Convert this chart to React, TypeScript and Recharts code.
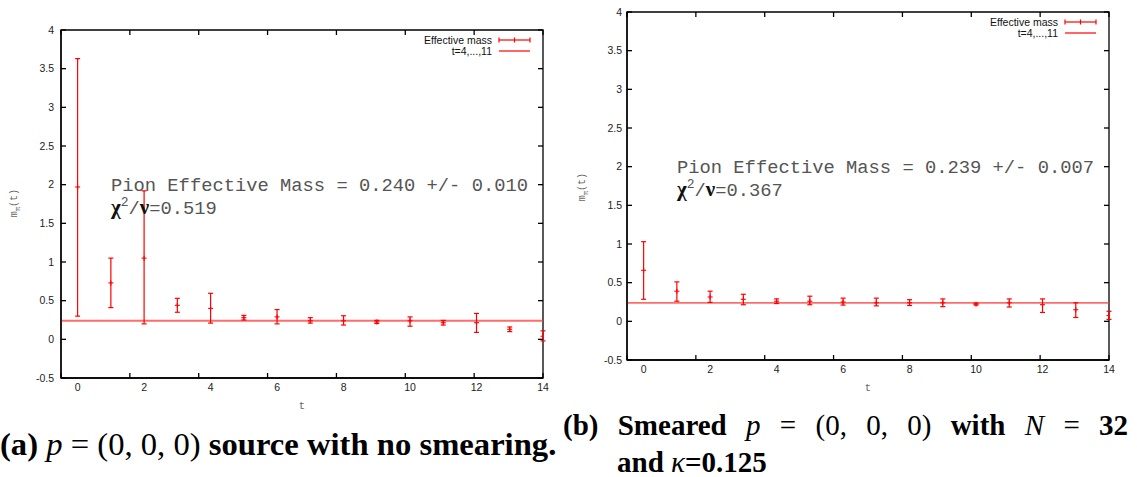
import React from "react";
import {
  ComposedChart,
  Scatter,
  ErrorBar,
  XAxis,
  YAxis,
  ReferenceLine,
  ReferenceArea,
} from "recharts";

// time slices
const T = [0, 1, 2, 3, 4, 5, 6, 7, 8, 9, 10, 11, 12, 13, 14];
const X_TICKS = [0, 2, 4, 6, 8, 10, 12, 14];
const Y_TICKS = [-0.5, 0, 0.5, 1, 1.5, 2, 2.5, 3, 3.5, 4];
const X_DOMAIN: [number, number] = [-0.5, 14];
const Y_DOMAIN: [number, number] = [-0.5, 4];

// (a) point source, no smearing
const A_MASS = [1.97, 0.73, 1.05, 0.44, 0.4, 0.28, 0.29, 0.24, 0.24, 0.225, 0.24, 0.215, 0.215, 0.13, 0.04];
const A_LOW = [0.3, 0.41, 0.2, 0.35, 0.21, 0.25, 0.2, 0.21, 0.185, 0.205, 0.17, 0.185, 0.09, 0.1, -0.02];
const A_HIGH = [3.63, 1.05, 1.92, 0.53, 0.595, 0.31, 0.385, 0.28, 0.305, 0.245, 0.29, 0.245, 0.335, 0.16, 0.11];
const A_FIT = 0.24;
const A_NOTE = { mass: "0.240", err: "0.010", chi: "0.519" };

// (b) smeared source
const B_MASS = [0.66, 0.39, 0.315, 0.285, 0.26, 0.26, 0.25, 0.24, 0.24, 0.24, 0.222, 0.24, 0.215, 0.15, 0.075];
const B_LOW = [0.285, 0.26, 0.245, 0.215, 0.23, 0.215, 0.21, 0.2, 0.205, 0.19, 0.21, 0.185, 0.115, 0.05, 0.025];
const B_HIGH = [1.03, 0.51, 0.39, 0.35, 0.29, 0.325, 0.3, 0.3, 0.28, 0.29, 0.235, 0.29, 0.29, 0.24, 0.13];
const B_FIT = 0.239;
const B_NOTE = { mass: "0.239", err: "0.007", chi: "0.367" };

const LEGEND_LABELS = ["Effective mass", "t=4,...,11"];

const MONO = '"Liberation Mono", "DejaVu Sans Mono", monospace';
const SANS = '"Liberation Sans", Arial, sans-serif';
const SERIF = '"Liberation Serif", "DejaVu Serif", serif';
const RED = "#ff0000";

function buildRows(mass: number[], low: number[], high: number[]) {
  return T.map((t, i) => ({
    t,
    m: mass[i],
    err: [mass[i] - low[i], high[i] - mass[i]],
  }));
}

const rowsA = buildRows(A_MASS, A_LOW, A_HIGH);
const rowsB = buildRows(B_MASS, B_LOW, B_HIGH);

const PlusMark = (props: any) => {
  const { cx, cy } = props;
  if (cx == null || cy == null) return <g />;
  return (
    <g stroke={RED} strokeWidth={1.1}>
      <line x1={cx - 2.5} y1={cy} x2={cx + 2.5} y2={cy} />
      <line x1={cx} y1={cy - 2.5} x2={cx} y2={cy + 2.5} />
    </g>
  );
};

const blank = () => "";
const tickStyle = { fontSize: 10.5, fill: "#222", fontFamily: SANS };

type PanelProps = {
  rows: any[];
  fit: number;
  width: number;
  height: number;
  top: number;
  right: number;
  yAxisWidth: number;
  xAxisHeight: number;
  yTickGap: number;
};

function MassPanel({ rows, fit, width, height, top, right, yAxisWidth, xAxisHeight, yTickGap }: PanelProps) {
  return (
    <ComposedChart
      width={width}
      height={height}
      data={rows}
      margin={{ top, right, bottom: 0, left: 0 }}
    >
      <XAxis
        dataKey="t"
        type="number"
        domain={X_DOMAIN}
        allowDataOverflow
        ticks={X_TICKS}
        height={xAxisHeight}
        stroke="#000"
        strokeWidth={1.3}
        tickLine={false}
        tickSize={0}
        tickMargin={6}
        tick={tickStyle}
      />
      <XAxis
        xAxisId="bin"
        type="number"
        domain={X_DOMAIN}
        allowDataOverflow
        ticks={X_TICKS}
        orientation="bottom"
        mirror
        height={1}
        stroke="#000"
        strokeWidth={1.3}
        axisLine={false}
        tickSize={5}
        tickFormatter={blank}
      />
      <XAxis
        xAxisId="top"
        type="number"
        domain={X_DOMAIN}
        allowDataOverflow
        ticks={X_TICKS}
        orientation="top"
        mirror
        height={1}
        stroke="#000"
        strokeWidth={1.3}
        axisLine={false}
        tickSize={5}
        tickFormatter={blank}
      />
      <YAxis
        type="number"
        domain={Y_DOMAIN}
        allowDataOverflow
        ticks={Y_TICKS}
        width={yAxisWidth}
        stroke="#000"
        strokeWidth={1.3}
        tickLine={false}
        tickSize={0}
        tickMargin={yTickGap}
        tick={tickStyle}
      />
      <YAxis
        yAxisId="lin"
        type="number"
        domain={Y_DOMAIN}
        allowDataOverflow
        ticks={Y_TICKS}
        orientation="left"
        mirror
        width={1}
        stroke="#000"
        strokeWidth={1.3}
        axisLine={false}
        tickSize={5}
        tickFormatter={blank}
      />
      <YAxis
        yAxisId="right"
        type="number"
        domain={Y_DOMAIN}
        allowDataOverflow
        ticks={Y_TICKS}
        orientation="right"
        mirror
        width={1}
        stroke="#000"
        strokeWidth={1.3}
        axisLine={false}
        tickSize={5}
        tickFormatter={blank}
      />
      {/* plot frame */}
      <ReferenceArea
        x1={X_DOMAIN[0]}
        x2={X_DOMAIN[1]}
        y1={Y_DOMAIN[0]}
        y2={Y_DOMAIN[1]}
        fill="none"
        fillOpacity={0}
        stroke="#000"
        strokeWidth={1.3}
        strokeOpacity={1}
      />
      <ReferenceLine
        y={fit}
        stroke="#ff3b3b"
        strokeWidth={1.8}
        strokeOpacity={0.75}
      />
      <Scatter dataKey="m" shape={PlusMark} isAnimationActive={false}>
        <ErrorBar
          dataKey="err"
          direction="y"
          width={2.5}
          stroke={RED}
          strokeWidth={1.2}
          isAnimationActive={false}
        />
      </Scatter>
    </ComposedChart>
  );
}

function Legend({ textRight, rowY }: { textRight: number; rowY: number }) {
  const rowStyle = (i: number): React.CSSProperties => ({
    position: "absolute",
    left: textRight - 200,
    top: rowY + i * 11 - 6,
    width: 200,
    height: 12,
    lineHeight: "12px",
    textAlign: "right",
    fontFamily: SANS,
    fontSize: 10.5,
    color: "#111",
    whiteSpace: "nowrap",
  });
  return (
    <>
      <div style={rowStyle(0)}>{LEGEND_LABELS[0]}</div>
      <div style={rowStyle(1)}>{LEGEND_LABELS[1]}</div>
      <svg
        width={34}
        height={22}
        style={{ position: "absolute", left: textRight + 6, top: rowY - 6 }}
      >
        <g stroke={RED} strokeWidth={1.2}>
          <line x1={1} y1={6} x2={32} y2={6} />
          <line x1={1} y1={3.5} x2={1} y2={8.5} />
          <line x1={32} y1={3.5} x2={32} y2={8.5} />
          <line x1={16.5} y1={3.5} x2={16.5} y2={8.5} />
          <line x1={1} y1={17} x2={32} y2={17} />
        </g>
      </svg>
    </>
  );
}

function FitNote({ left, top, note }: { left: number; top: number; note: typeof A_NOTE }) {
  const sym: React.CSSProperties = { fontFamily: SERIF, fontWeight: 700, color: "#111", fontSize: 21 };
  return (
    <div
      style={{
        position: "absolute",
        left,
        top,
        fontFamily: MONO,
        fontSize: 18.8,
        lineHeight: "21px",
        color: "#555",
        whiteSpace: "pre",
      }}
    >
      <div>{`Pion Effective Mass = ${note.mass} +/- ${note.err}`}</div>
      <div>
        <span style={sym}>χ</span>
        <span style={{ fontSize: 13, position: "relative", top: -8 }}>2</span>/
        <span style={sym}>ν</span>={note.chi}
      </div>
    </div>
  );
}

function AxisTitles({ yx, yy, tx, ty }: { yx: number; yy: number; tx: number; ty: number }) {
  return (
    <>
      <div
        style={{
          position: "absolute",
          left: yx - 25,
          top: yy - 7,
          width: 50,
          height: 14,
          lineHeight: "14px",
          textAlign: "center",
          transform: "rotate(-90deg)",
          fontFamily: MONO,
          fontSize: 10,
          color: "#666",
        }}
      >
        m<sub style={{ fontSize: 7 }}>π</sub>(t)
      </div>
      <div
        style={{
          position: "absolute",
          left: tx - 10,
          top: ty - 7,
          width: 20,
          lineHeight: "14px",
          textAlign: "center",
          fontFamily: MONO,
          fontSize: 10.5,
          color: "#666",
        }}
      >
        t
      </div>
    </>
  );
}

const capBold: React.CSSProperties = { fontWeight: 700 };
const capMath: React.CSSProperties = { fontWeight: 400 };
const capIt: React.CSSProperties = { fontWeight: 400, fontStyle: "italic" };

export default function App() {
  return (
    <div
      style={{
        position: "absolute",
        left: 0,
        top: 0,
        width: 1137,
        height: 477,
        background: "#fff",
        overflow: "hidden",
      }}
    >
      <div style={{ position: "absolute", left: 0, top: 0 }}>
        <MassPanel
          rows={rowsA}
          fit={A_FIT}
          width={560}
          height={400}
          top={30}
          right={17}
          yAxisWidth={61}
          xAxisHeight={22}
          yTickGap={7}
        />
      </div>
      <div style={{ position: "absolute", left: 560, top: 0 }}>
        <MassPanel
          rows={rowsB}
          fit={B_FIT}
          width={577}
          height={385}
          top={12}
          right={28}
          yAxisWidth={67}
          xAxisHeight={25}
          yTickGap={5}
        />
      </div>

      <Legend textRight={492} rowY={40} />
      <Legend textRight={1058} rowY={22} />

      <FitNote left={111} top={176} note={A_NOTE} />
      <FitNote left={677} top={158} note={B_NOTE} />

      <AxisTitles yx={15} yy={203} tx={302} ty={406} />
      <AxisTitles yx={583} yy={187} tx={868} ty={388} />

      {/* sub-figure captions */}
      <div
        style={{
          position: "absolute",
          left: 0,
          top: 427,
          fontFamily: SERIF,
          fontSize: 32,
          lineHeight: "34px",
          whiteSpace: "nowrap",
          transform: "scaleX(1.02)",
          transformOrigin: "left top",
          ...capBold,
        }}
      >
        (a) <span style={capIt}>p</span> <span style={capMath}>= (0, 0, 0)</span> source with no smearing.
      </div>
      <div
        style={{
          position: "absolute",
          left: 563,
          top: 408,
          width: 565,
          fontFamily: SERIF,
          fontSize: 29,
          lineHeight: "34px",
          whiteSpace: "nowrap",
          textAlign: "justify",
          textAlignLast: "justify",
          ...capBold,
        }}
      >
        (b) Smeared <span style={capIt}>p</span> <span style={capMath}>=</span>{" "}
        <span style={capMath}>(0, 0, 0)</span> with <span style={capIt}>N</span>{" "}
        <span style={capMath}>=</span> 32
      </div>
      <div
        style={{
          position: "absolute",
          left: 617,
          top: 445,
          fontFamily: SERIF,
          fontSize: 29,
          lineHeight: "34px",
          whiteSpace: "nowrap",
          ...capBold,
        }}
      >
        and <span style={capIt}>κ</span>=0.125
      </div>
    </div>
  );
}
